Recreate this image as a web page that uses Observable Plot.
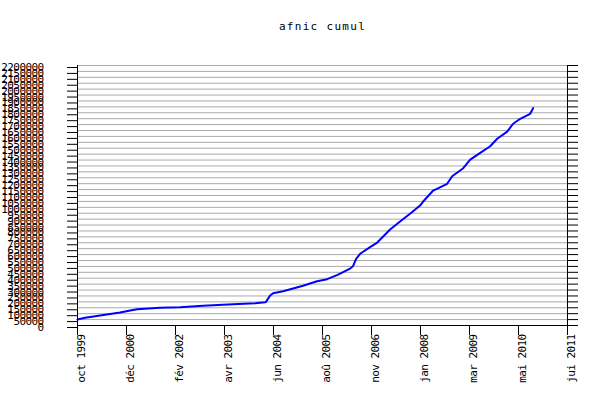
<!DOCTYPE html>
<html><head><meta charset="utf-8">
<script src="https://cdn.jsdelivr.net/npm/d3@7"></script>
<script src="https://cdn.jsdelivr.net/npm/@observablehq/plot@0.6"></script>
<style>
body{margin:0;background:#fff}
svg [aria-label="y-axis tick label"] text{letter-spacing:-0.6px}
</style></head><body><div id="chart"></div>
<script>
const title = "afnic cumul";
const dates = ["1999-10-01","1999-12-07","2000-04-16","2000-10-08","2001-01-04","2001-03-06","2001-09-23","2002-03-17","2002-10-05","2003-06-24","2004-01-04","2004-03-31","2004-04-08","2004-05-14","2004-06-09","2004-09-04","2004-12-01","2005-02-26","2005-06-29","2005-09-25","2005-12-21","2006-04-14","2006-05-10","2006-06-06","2006-07-11","2006-10-06","2006-12-08","2007-03-30","2007-06-26","2007-09-21","2007-12-18","2008-01-14","2008-04-11","2008-08-11","2008-09-24","2008-12-30","2009-03-01","2009-05-28","2009-08-23","2009-10-23","2010-01-19","2010-03-12","2010-05-13","2010-08-08","2010-09-03"];
const values = [50000,65000,84000,110000,127000,138000,150000,155000,168000,180000,188000,197000,200000,254000,273000,290000,313000,336000,375000,392000,426000,482000,502000,564000,607000,663000,702000,812000,880000,945000,1015000,1049000,1142000,1199000,1263000,1331000,1404000,1461000,1517000,1580000,1641000,1707000,1749000,1791000,1839000];
const xTickLabels = ["oct 1999","déc 2000","fév 2002","avr 2003","jun 2004","aoû 2005","nov 2006","jan 2008","mar 2009","mai 2010","jui 2011"];
const xStart = "1999-10-01", xEnd = "2011-07-01";
const yMax = 2200000, yStep = 50000;

const data = dates.map((d, i) => ({date: new Date(d), value: values[i]}));
const t0 = new Date(xStart), t1 = new Date(xEnd);
const xTicks = xTickLabels.map((_, i) => new Date(+t0 + i * (t1 - t0) / (xTickLabels.length - 1)));
const yTicks = d3.range(0, yMax + 1, yStep);
const font = "DejaVu Sans Mono";

const plot = Plot.plot({
  width: 600, height: 400,
  marginLeft: 77, marginRight: 33, marginTop: 65, marginBottom: 75,
  style: {fontFamily: font, fontSize: "11px", background: "#fff", color: "#000", overflow: "visible"},
  x: {type: "utc", domain: [t0, t1]},
  y: {domain: [0, yMax]},
  marks: [
    Plot.gridY(yTicks, {stroke: "#aaaaaa", strokeOpacity: 1}),
    Plot.line(data, {x: "date", y: "value", stroke: "#0000ff", strokeWidth: 2}),
    Plot.ruleY([0], {stroke: "#000"}),
    Plot.ruleX([t0, t1], {y1: 0, y2: yMax, stroke: "#000"}),
    Plot.axisY(yTicks, {anchor: "left", label: null, tickSize: 10, tickPadding: 24, tickFormat: d => String(d), fontSize: 11, dy: 2}),
    Plot.axisY(yTicks, {anchor: "right", label: null, tickSize: 10, tickFormat: () => ""}),
    Plot.axisX(xTicks, {anchor: "bottom", label: null, tickSize: 10, tickFormat: () => ""}),
    Plot.text(xTicks, {x: d => d, frameAnchor: "bottom", rotate: -90, textAnchor: "end", lineAnchor: "top", dy: 9, dx: 0, text: (d, i) => xTickLabels[i], fontSize: 11}),
    Plot.text([title], {frameAnchor: "top", dy: -43, fontSize: 11})
  ]
});
const textGroups = d3.select(plot).selectAll('g[aria-label="text"]').nodes();
if (textGroups[0]) d3.select(textGroups[0]).selectAll("text").style("letter-spacing", "-0.6px");
if (textGroups[1]) d3.select(textGroups[1]).selectAll("text").style("letter-spacing", "1.3px");
document.getElementById("chart").append(plot);
</script></body></html>
